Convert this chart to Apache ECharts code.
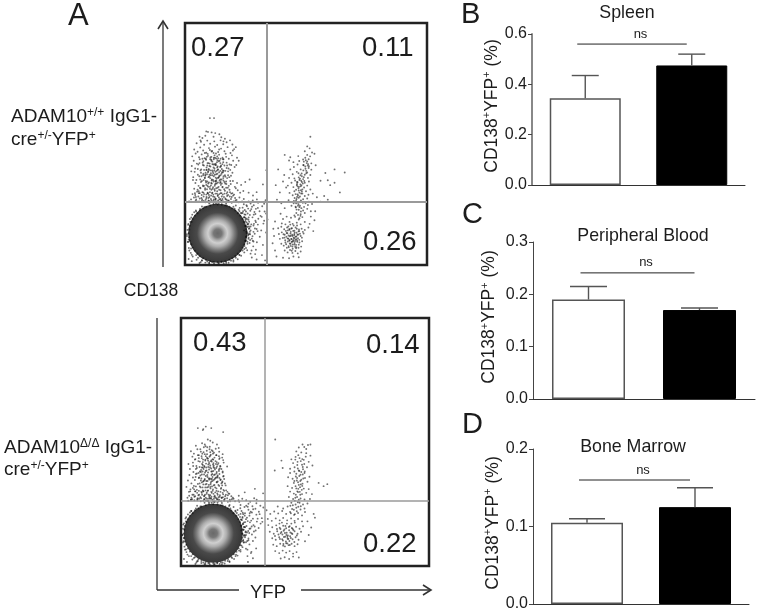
<!DOCTYPE html>
<html><head><meta charset="utf-8">
<style>html,body{margin:0;padding:0;background:#fff}#c{width:758px;height:615px}</style>
<script src="https://cdn.jsdelivr.net/npm/echarts@6/dist/echarts.min.js"></script>
</head><body><div id="c"></div>
<script>
// ---------- bar panels ----------
const categories = ['ADAM10 +/+', 'ADAM10 Δ/Δ'];
const spleenValues = [0.345, 0.475];
const spleenUpper = [0.435, 0.52];
const bloodValues = [0.19, 0.17];
const bloodUpper = [0.215, 0.174];
const marrowValues = [0.105, 0.125];
const marrowUpper = [0.11, 0.15];
// ---------- flow quadrant percentages ----------
const quadrantsTop = ['0.27', '0.11', '0.26'];
const quadrantsBottom = ['0.43', '0.14', '0.22'];
// ---------- flow events, x,y pairs on a 0-1000 display scale ----------
const gatesTop = [339, 260];
const gatesBottom = [339, 262];
const coreTop = [[135, 131]];
const coreBottom = [[130, 132]];
const tailTop = [
103,607,120,607,88,552,95,550,110,548,125,545,142,540,60,530,72,525,84,534,118,530,150,528,165,522,186,515,
48,503,66,509,79,497,92,514,104,501,121,511,133,496,147,515,158,499,172,507,196,498,210,487,
38,477,52,468,63,486,75,473,88,464,99,483,112,471,124,489,137,467,149,481,163,470,176,487,188,463,203,479,
30,449,44,461,58,445,69,457,81,441,94,459,105,444,118,463,129,440,141,456,155,443,168,460,181,439,194,453,215,443,
36,431,49,419,61,437,73,423,86,439,97,421,109,435,122,417,134,433,146,421,159,437,172,423,184,415,199,431,
28,409,42,399,55,415,67,395,78,411,90,393,101,409,113,391,125,413,137,395,148,407,160,389,174,411,187,393,205,405,
40,385,53,373,64,391,76,377,84,369,96,387,106,371,115,385,123,373,131,389,142,369,153,383,165,371,178,387,190,369,
34,363,47,351,59,367,70,347,82,361,92,345,100,365,110,349,119,367,128,345,138,361,147,343,158,359,170,345,183,363,198,347,
43,339,56,327,66,343,75,325,87,341,96,323,108,339,116,321,127,337,135,319,145,339,155,323,166,337,177,319,189,335,206,323,
38,315,50,303,62,319,72,301,83,317,94,299,103,315,112,297,122,313,132,295,141,311,151,297,162,313,172,295,184,311,196,297,218,309,
31,293,45,281,57,297,68,277,79,293,88,275,99,289,107,273,117,291,126,275,136,289,146,273,156,291,167,275,178,289,190,273,203,291,225,279
];
const tailTopDense = [
93,327,118,403,147,371,102,419,131,357,85,381,163,411,124,333,109,447,152,397,77,351,139,429,97,363,171,335,117,379,128,413,89,403,143,349,106,391,159,367,
74,413,134,377,99,341,167,389,113,427,148,331,82,359,122,399,137,441,95,383,155,417,107,329,127,361,178,371,87,435,116,351,145,405,101,373,132,425,68,367,
151,353,92,411,126,385,172,401,111,337,141,365,79,393,119,443,163,343,104,359,135,407,88,331,157,383,129,349,98,397,174,359,113,417,146,389,84,373,123,327,
91,313,108,287,133,305,76,299,152,283,119,271,64,317,142,293,97,277,165,307,126,295,85,269,174,285,55,283,137,267,103,301,158,263,114,315,70,265,147,309,
193,281,46,271,122,281,88,291,181,267,61,297,129,317,99,265,168,271,77,283,207,277,140,279,52,311,109,267,186,301,155,273,93,297,201,263,116,283,37,279,
72,439,128,461,95,451,158,425,110,469,141,477,82,463,170,447,60,421,122,453,147,439,191,413,53,397,103,475,133,449,180,399,66,381,196,381,74,329,187,347,
58,263,71,271,84,259,97,267,112,261,125,269,139,257,152,267,166,259,178,265,193,257,209,267,222,259,236,263,44,265,33,261,
42,289,25,271,17,263,210,317,228,299,215,339,33,351,26,387,212,413,222,431,198,473,64,515,159,511
];
const tailTopCore = [
121,391,133,403,113,371,141,383,127,419,105,407,149,411,119,437,137,361,99,393,157,391,111,353,129,375,143,431,93,421,125,347,151,377,107,379,135,393,117,415,
131,337,86,347,159,349,103,323,139,323,91,375,167,365,123,307,147,297,79,327,113,299,155,321,101,281,135,285,175,301,83,311,127,273,161,281,69,289,143,271,
109,311,95,295,117,265,149,265,173,269,185,283,61,275,77,265,131,263,105,259,89,281,163,295,191,295,57,305,199,287,213,269,49,263,41,297,
96,337,118,345,136,341,152,337,75,371,63,353,88,393,146,353,170,319,181,327,109,431,124,443,90,447,157,437,76,429,104,437
];
const bridgeTop = [
232,331,249,343,267,353,281,287,296,301,322,333,336,392,241,306,263,299,
243,251,256,243,271,254,284,247,302,257,319,243,333,268,
247,227,259,213,274,231,287,219,301,236,329,221,
251,193,265,179,279,197,291,183,312,203,341,188,
257,157,271,143,283,163,296,149,324,171,
261,123,276,109,288,129,309,117,335,134,
267,91,282,77,297,94,322,83,
257,61,271,47,293,63,318,41,
276,31,296,23,331,19,
238,237,252,221,246,209,261,233,268,207,277,241,255,176,263,196,249,161,274,168,
244,143,258,133,266,152,252,117,269,103,249,99,283,137,291,211,303,191,
243,273,263,263,280,267,297,271,312,261,327,253,
262,187,270,224,284,208,293,232,308,222,317,199,327,183,269,127,279,119,289,151,301,167,315,143,
254,247,238,215,247,197,259,169,271,159,253,137,263,113,283,97,293,177,335,213
];
const rightTop = [
518,530,505,490,515,482,495,470,525,465,505,455,535,460,412,455,435,445,468,450,
430,432,448,425,472,430,488,436,505,428,522,420,540,412,465,415,490,412,512,408,
435,395,450,405,478,395,498,398,522,394,462,385,482,378,505,382,518,372,445,375,
430,360,452,358,470,362,488,355,508,360,465,342,480,348,495,340,512,345,440,340,
425,328,448,322,462,330,478,325,492,320,505,328,470,308,485,312,500,305,518,312,452,305,
432,298,445,288,465,292,480,295,495,285,510,290,528,295,470,278,488,272,505,275,545,280,
428,268,450,265,465,258,482,262,498,255,512,262,475,245,492,240,508,248,525,252,560,262,
440,245,458,238,470,228,488,225,505,232,520,222,460,215,478,210,495,215,538,222,
385,395,410,372,375,330,392,300,405,345,418,320,380,270,398,255,412,235,395,212,
590,350,600,330,575,285,590,270,618,395,618,340,660,382,
640,300,560,348,580,380,640,260,
497,443,511,437,503,421,517,449,491,427,509,417,497,407,489,391,511,401,483,367,
473,351,491,363,477,333,469,317,487,337,459,311,473,299,493,347,467,287,483,303,
475,283,461,273,479,267,453,277,469,251,487,257,457,241,473,239,461,229,479,221,
465,325,455,349,477,371,501,389,469,379,459,267,449,255,467,207,455,199,473,193,
481,329,463,343,471,323,485,295,479,309,457,293,463,281,471,261,467,245,481,235,
495,373,507,411,499,433,475,357,463,335,489,413,501,379,483,343,459,255,477,203
];
const lowerTop = [
405,190,420,200,438,195,452,205,470,188,485,198,400,172,415,168,432,178,445,170,462,175,478,168,495,178,
385,152,398,158,410,148,422,155,432,145,442,152,452,142,462,150,472,140,482,150,495,145,510,155,
388,128,400,135,412,125,420,132,428,122,436,130,444,120,452,128,460,118,468,126,478,120,490,130,
392,108,404,112,414,102,424,110,432,100,440,108,448,98,456,106,464,96,472,104,484,98,
398,88,408,80,418,86,428,78,436,88,444,76,452,84,460,74,470,84,480,76,
412,60,424,52,434,62,444,50,456,58,466,48,478,56,
372,180,365,150,368,120,362,90,372,60,378,35,405,30,430,28,448,35,470,32,
520,200,535,185,515,170,530,140,
437,137,449,113,427,159,461,133,441,95,419,117,453,91,435,167,467,111,429,73,447,141,459,83,423,131,471,147,439,107,
451,123,433,89,463,163,417,141,445,67,475,129,431,149,455,99,443,125,425,97,469,71,411,113,457,155,437,79,483,113,
449,163,421,71,461,107,441,59,407,127,473,93,427,109,453,135,439,151,465,125,415,93,487,137,447,103,433,119,459,69,
443,97,451,111,437,121,457,117,431,103,445,85,463,101,425,143,455,75,469,139
];
const rimTop = [
8,120,10,145,12,95,14,170,16,70,20,190,24,50,30,208,32,35,45,225,48,22,62,232,65,12,80,240,84,10,
100,8,120,6,140,8,160,7,180,9,200,14,218,24,232,38,245,52,252,70,
258,88,262,108,266,128,264,150,262,170,256,190,250,208,240,222,226,236,210,246,
15,105,18,60,22,178,28,42,38,218,54,30,70,18,92,14,112,12,150,12,170,14,190,18,210,30,225,42,238,60,246,78,
252,100,255,120,256,140,254,160,250,180,244,198,234,214,222,228,
275,60,280,100,290,45,300,140,285,170,28,16,60,8,15,25,
255,131,261,127,268,137,250,162,258,168,264,159,238,190,244,197,250,187,218,214,225,222,231,215,194,234,200,241,205,233,
166,246,170,253,173,245,135,250,141,258,128,254,105,246,100,254,75,234,70,242,52,214,46,221,32,190,26,196,20,162,13,166,
15,131,8,127,20,100,13,96,32,72,25,68,52,48,46,41,75,28,70,20,104,16,100,8,135,12,138,5,166,16,170,8,195,28,200,20,
218,48,225,41,238,72,245,66,250,100,258,96,152,249,118,251,87,241,61,226,41,204,27,178,18,147,17,115,26,86,41,59,61,36,
87,21,119,13,151,14,183,22,208,37,229,58,245,85,253,115,253,148,243,178,228,204,208,225,184,241,152,257,118,257
];
const tailBottom = [
68,556,90,552,100,562,88,548,122,556,170,540,
108,510,118,505,85,495,96,490,128,498,145,490,60,485,152,476,
40,463,52,453,66,471,80,461,92,479,104,465,116,481,128,463,140,473,154,461,168,451,
46,441,58,431,72,447,84,435,96,451,106,433,118,445,130,429,142,447,156,435,170,427,
30,411,48,417,62,403,76,421,88,407,98,425,110,409,120,423,132,405,144,419,158,403,172,417,186,401,
36,391,50,379,64,395,76,381,88,397,100,383,110,399,122,381,134,395,144,379,156,393,168,377,
34,367,48,357,60,371,72,355,84,369,96,351,106,367,116,353,126,371,136,351,148,365,160,349,172,363,
28,345,42,333,56,347,68,331,80,345,90,329,102,343,112,327,122,341,132,325,144,339,154,323,166,337,180,325,
22,319,38,309,52,323,64,307,76,321,88,305,98,317,108,303,118,319,128,303,138,317,150,301,162,315,174,303,
32,299,46,287,58,301,70,285,82,299,94,283,104,297,114,281,124,295,134,279,146,293,156,279,168,295,178,281,192,293,
26,275,40,267,54,279,66,265,78,277,90,263,100,275,110,261,120,273,130,259,142,273,152,261,164,275,174,263,186,273,198,261,212,271
];
const tailBottomDense = [
89,341,114,413,143,373,98,429,127,359,81,387,159,401,120,335,105,451,148,409,73,357,135,437,93,369,167,341,113,389,124,421,85,411,139,355,102,397,155,371,
70,423,130,383,95,347,163,391,109,433,144,337,78,365,118,405,133,457,91,391,151,415,103,331,123,367,174,351,83,443,112,353,141,411,97,377,128,431,64,373,
147,357,88,419,122,393,168,381,107,343,137,369,75,399,115,471,159,347,100,363,131,415,84,337,153,389,125,351,94,403,170,361,109,425,142,395,80,379,119,329,
87,317,104,291,129,309,72,303,148,287,115,275,60,321,138,297,93,281,161,311,122,299,81,273,170,289,51,287,133,271,99,305,154,267,110,319,66,269,143,313,
189,285,42,275,118,285,84,295,177,271,57,301,125,321,95,269,164,275,73,287,203,281,136,283,48,315,105,271,182,305,151,277,89,301,197,267,112,287,33,283,
68,447,124,467,91,459,154,431,106,479,78,471,166,437,56,429,118,459,143,447,49,403,99,483,129,453,60,391,
54,265,67,273,80,261,93,269,108,263,121,271,135,259,148,269,162,261,174,267,189,259,205,269,218,261,232,265,40,267,29,263
];
const tailBottomCore = [
117,397,129,409,109,377,137,389,123,427,101,413,145,401,115,441,133,367,95,399,153,383,107,359,125,381,139,423,89,429,121,351,147,361,103,385,131,399,113,419,
127,343,82,353,155,355,99,329,135,327,87,381,163,333,119,313,143,303,75,333,109,305,151,327,97,287,131,291,171,307,79,317,123,279,157,285,65,295,139,277,
105,317,91,301,113,271,145,269,169,277,181,287,57,281,73,271,127,267,101,263,85,287,159,299,187,299,53,309,195,291,209,275,45,269,37,301,
92,343,114,349,132,347,148,341,71,375,59,359,84,397,142,357,166,325,177,333,105,437,120,449,86,453,153,443,72,435,100,443
];
const bridgeBottom = [
240,246,256,238,272,251,288,241,304,253,320,243,332,236,
244,222,258,213,272,227,286,216,300,231,314,219,
248,198,262,189,276,203,290,191,304,207,326,193,
250,172,264,161,278,176,292,165,306,179,
252,146,266,135,280,151,294,139,313,153,
258,122,272,111,286,127,300,115,
262,96,276,87,290,101,
268,66,284,57,303,71,
290,31,
239,233,249,215,263,243,257,203,269,181,246,185,253,157,262,125,247,131,251,105,271,141,243,163,281,219,
235,259,247,271,263,265,279,259,295,273,305,267,233,283,257,297,298,311,331,293,
266,195,277,213,291,229,283,183,297,159,309,191,321,171,275,133,285,159,267,101,259,177,251,209,
269,239,301,143,317,209,328,178,243,143
];
const rightBottom = [
512,488,490,490,497,480,505,472,522,490,475,478,465,462,485,458,505,455,522,445,
445,430,462,440,478,435,495,428,515,420,452,415,470,420,488,408,508,398,530,405,
440,392,458,398,475,385,492,390,440,375,465,372,482,368,498,375,518,360,
432,358,450,352,468,355,485,348,500,355,455,335,472,338,490,332,510,340,
430,322,448,315,462,322,480,318,495,312,515,310,
440,300,455,292,472,298,488,290,505,295,528,290,
435,278,452,270,468,278,482,272,498,268,520,270,
445,255,462,248,478,255,492,248,510,252,
390,240,412,232,430,240,448,230,465,235,482,228,498,232,
380,510,405,425,378,385,410,395,555,335,575,322,590,330,
483,423,469,407,491,399,477,383,463,361,481,343,491,369,475,327,487,307,469,301,
457,343,465,313,481,287,459,263,475,267,451,245,467,221,483,241,443,213,
497,411,461,429,473,447,499,381,457,381,489,323,
471,393,485,379,477,363,467,345,483,329,473,311,463,287,479,299,461,275,471,257,
455,227,441,243,473,239,459,209,489,431,503,441,493,353
];
const lowerBottom = [
345,225,360,210,376,220,392,212,408,222,424,210,440,218,456,206,472,214,488,204,500,218,
350,190,366,182,382,192,398,184,412,194,428,184,444,192,458,182,472,190,488,180,
352,165,368,156,384,164,398,154,412,162,424,152,438,160,450,150,464,158,478,150,492,160,
358,138,374,130,388,140,402,132,414,142,426,134,436,144,446,132,458,140,470,130,484,138,
368,112,382,106,396,116,408,108,420,118,430,110,440,120,450,108,462,116,474,106,
372,86,386,80,400,90,412,82,424,92,434,84,446,90,458,80,470,88,
380,60,396,52,410,62,424,54,438,60,452,50,466,56,
402,30,418,35,436,28,452,38,475,34,
510,180,525,155,515,125,500,100,535,210,540,195,
417,147,431,123,405,137,443,113,423,99,393,127,435,157,411,103,449,129,427,171,401,149,457,97,419,133,439,85,407,175,
445,171,387,149,429,117,413,89,453,145,399,109,421,161,437,101,467,123,379,121,
425,125,433,109,415,117,441,135,409,127,429,91,447,153,419,79,397,171,459,175
];
const rimBottom = [
6,125,8,150,10,100,12,172,14,78,18,192,22,56,28,208,32,40,42,222,46,26,60,232,62,14,78,240,82,12,
98,8,116,6,136,8,156,8,176,10,196,16,214,28,228,42,240,58,248,76,
254,96,258,116,260,136,258,156,254,176,248,194,240,210,228,226,212,238,196,246,
12,112,16,66,20,180,26,46,36,216,52,32,68,20,90,14,110,12,146,12,168,14,188,20,206,32,222,46,234,62,
244,82,250,102,252,122,252,146,248,168,242,188,232,206,220,220,
262,70,272,104,282,52,276,150,268,40,24,16,58,8,12,28,270,16,
248,129,255,125,261,139,243,161,251,169,257,157,231,189,238,198,243,186,211,213,219,223,225,214,189,233,194,242,199,232,
161,245,165,254,168,244,130,249,136,259,123,255,100,245,95,255,70,233,65,243,47,213,41,222,27,189,21,197,15,161,9,167,
10,130,5,125,15,99,8,95,27,71,20,67,47,47,41,40,70,27,65,19,99,15,95,7,130,11,133,5,161,15,165,7,190,27,195,19,
213,47,220,40,233,71,240,65,245,99,253,95,147,248,113,250,82,240,56,225,36,203,22,177,13,146,12,114,21,85,36,58,56,35,
82,20,114,12,146,13,178,21,203,36,224,57,240,84,248,114,248,147,238,177,223,203,203,224,179,240,147,256,113,256
];

const pairs = f => { const o = []; for (let i = 0; i + 1 < f.length; i += 2) o.push([f[i], f[i + 1]]); return o; };
const FONT = '"Liberation Sans", Arial, sans-serif';
const INK = '#1c1c1c';

const coreGradient = {
  type: 'radial', x: .5, y: .5, r: .5,
  colorStops: [
    {offset: 0, color: '#444'}, {offset: .14, color: '#555'}, {offset: .24, color: '#999'},
    {offset: .33, color: '#c4c4c4'}, {offset: .45, color: '#9a9a9a'}, {offset: .58, color: '#555'},
    {offset: .7, color: '#1c1c1c'}, {offset: 1, color: '#050505'}
  ]
};

const grids = [], xAxes = [], yAxes = [], series = [], graphic = [];

function flowPanel(box, lists, core, gates, gateWidth) {
  const i = grids.length;
  grids.push({left: box[0], top: box[1], width: box[2], height: box[2], show: true, borderColor: '#222', borderWidth: 2.5, backgroundColor: '#fff', z: 1});
  xAxes.push({gridIndex: i, type: 'value', min: 0, max: 1000, show: false});
  yAxes.push({gridIndex: i, type: 'value', min: 0, max: 1000, show: false});
  series.push({
    type: 'scatter', xAxisIndex: i, yAxisIndex: i, symbolSize: 1.9, silent: true, z: 3,
    itemStyle: {color: '#1a1a1a', opacity: .62},
    data: pairs(lists.flat()),
    markLine: {
      silent: true, symbol: 'none', label: {show: false}, animation: false,
      lineStyle: {color: '#9a9a9a', width: gateWidth, type: 'solid'},
      data: [{xAxis: gates[0]}, {yAxis: gates[1]}]
    }
  });
  series.push({
    type: 'scatter', xAxisIndex: i, yAxisIndex: i, symbolSize: 59, silent: true, z: 4,
    itemStyle: {color: coreGradient}, data: core
  });
}

function barPanel(box, values, upper, yMax, step, title, nsY, capW, barW, titlePos, nameGap, axisCol, axisW) {
  const i = grids.length;
  grids.push({left: box[0], top: box[1], width: box[2], height: box[3]});
  xAxes.push({
    gridIndex: i, type: 'category', data: categories,
    axisLine: {lineStyle: {color: '#333', width: 1}},
    axisTick: {alignWithLabel: true, length: 4, lineStyle: {color: '#333'}},
    axisLabel: {show: false}, splitLine: {show: false}
  });
  yAxes.push({
    gridIndex: i, type: 'value', min: 0, max: yMax, interval: step,
    name: '{n|CD138}{s|+}{n|YFP}{s|+}{n| (%)}', nameLocation: 'middle', nameGap,
    nameTextStyle: {padding: [0, 0, 0, 7], rich: {
      n: {fontSize: 17.5, fontFamily: FONT, color: INK, lineHeight: 21},
      s: {fontSize: 11, fontFamily: FONT, color: INK, verticalAlign: 'top', lineHeight: 21}
    }},
    axisLine: {show: true, lineStyle: {color: axisCol, width: axisW}},
    axisTick: {show: true, length: 4, lineStyle: {color: '#444'}},
    axisLabel: {fontSize: 16, fontFamily: FONT, color: INK, margin: 5, formatter: v => v.toFixed(1)},
    splitLine: {show: false}
  });
  series.push({
    type: 'bar', xAxisIndex: i, yAxisIndex: i, barWidth: barW, silent: true, z: 2,
    data: [
      {value: values[0], itemStyle: {color: '#fff', borderColor: '#555', borderWidth: 1.5}},
      {value: values[1], itemStyle: {color: '#000', borderColor: '#000', borderWidth: 1}}
    ]
  });
  series.push({
    type: 'custom', xAxisIndex: i, yAxisIndex: i, silent: true, z: 3,
    data: values.map((v, k) => [k, v, upper[k]]),
    encode: {x: 0, y: [1, 2]},
    renderItem(p, api) {
      const a = api.coord([api.value(0), api.value(1)]);
      const b = api.coord([api.value(0), api.value(2)]);
      const st = {stroke: '#555', lineWidth: 1.4, fill: null};
      return {type: 'group', children: [
        {type: 'line', shape: {x1: a[0], y1: a[1], x2: b[0], y2: b[1]}, style: st},
        {type: 'line', shape: {x1: b[0] - capW / 2, y1: b[1], x2: b[0] + capW / 2, y2: b[1]}, style: st}
      ]};
    }
  });
  series.push({
    type: 'custom', xAxisIndex: i, yAxisIndex: i, silent: true, z: 3,
    data: [[0, 1, nsY]],
    encode: {x: [0, 1], y: 2},
    renderItem(p, api) {
      const a = api.coord([api.value(0), api.value(2)]);
      const b = api.coord([api.value(1), api.value(2)]);
      return {type: 'group', children: [
        {type: 'line', shape: {x1: a[0] - 8, y1: a[1], x2: b[0] - 5, y2: b[1]}, style: {stroke: '#222', lineWidth: 1, fill: null}},
        {type: 'text', x: (a[0] + b[0]) / 2 + 2, y: a[1] - 10, style: {text: 'ns', font: '13px ' + FONT, fill: INK, textAlign: 'center', textVerticalAlign: 'middle'}}
      ]};
    }
  });
  label(title, titlePos[0], titlePos[1], 17.8, 'center');
}

function label(text, x, y, size, align, rich) {
  graphic.push({type: 'text', x, y, z: 20, silent: true, style: {
    text, font: size + 'px ' + FONT, fill: INK, align: align || 'left', verticalAlign: 'middle',
    textAlign: align || 'left', textVerticalAlign: 'middle', rich
  }});
}
function seg(x1, y1, x2, y2) {
  graphic.push({type: 'line', z: 20, silent: true, shape: {x1, y1, x2, y2}, style: {stroke: '#333', lineWidth: 1.3}});
}
function head(pts) {
  graphic.push({type: 'polyline', z: 20, silent: true, shape: {points: pts}, style: {stroke: '#333', lineWidth: 1.6, fill: null}});
}

flowPanel([185, 23, 242], [tailTop, tailTopDense, tailTopCore, bridgeTop, rightTop, lowerTop, rimTop], coreTop, gatesTop, 2);
flowPanel([181, 318, 248], [tailBottom, tailBottomDense, tailBottomCore, bridgeBottom, rightBottom, lowerBottom, rimBottom], coreBottom, gatesBottom, 1.5);

barPanel([532, 34, 213, 151], spleenValues, spleenUpper, 0.6, 0.2, 'Spleen', 0.56, 27, 71, [627, 13], 28, '#888', 2);
barPanel([533, 242, 222, 157], bloodValues, bloodUpper, 0.3, 0.1, 'Peripheral Blood', 0.241, 37, 73, [643, 236], 33, '#444', 1);
barPanel([533, 449, 216, 155], marrowValues, marrowUpper, 0.2, 0.1, 'Bone Marrow', 0.16, 36, 72, [633, 447], 29, '#444', 1);

// quadrant numbers
label(quadrantsTop[0], 191, 48, 27.5);
label(quadrantsTop[1], 362, 48, 27.5);
label(quadrantsTop[2], 363, 242, 27.5);
label(quadrantsBottom[0], 193, 343, 27.5);
label(quadrantsBottom[1], 366, 345, 27.5);
label(quadrantsBottom[2], 363, 544, 27.5);

// panel letters
label('A', 68, 16, 31);
label('B', 461, 15, 29);
label('C', 462, 215, 29);
label('D', 462, 425, 29);

// row labels
const richRow = {s: {fontSize: 12, fontFamily: FONT, color: INK, verticalAlign: 'top', lineHeight: 20}, n: {fontSize: 19, fontFamily: FONT, color: INK, lineHeight: 20}};
label('{n|ADAM10}{s|+/+}{n| IgG1-}', 11, 117, 19, 'left', richRow);
label('{n|cre}{s|+/-}{n|YFP}{s|+}', 11, 140, 19, 'left', richRow);
label('{n|ADAM10}{s|Δ/Δ}{n| IgG1-}', 4, 448, 19, 'left', richRow);
label('{n|cre}{s|+/-}{n|YFP}{s|+}', 4, 470, 19, 'left', richRow);
label('CD138', 151, 291, 17.5, 'center');
label('YFP', 268, 593, 18.5, 'center');

// arrows
seg(163, 267, 163, 21);
head([[158, 29], [163, 21], [168, 29]]);
seg(157, 318, 157, 590);
seg(157, 590, 239, 590);
seg(301, 590, 431, 590);
head([[423, 585], [431, 590], [423, 595]]);

const chart = echarts.init(document.getElementById('c'), null, {renderer: 'canvas'});
chart.setOption({
  animation: false, backgroundColor: '#fff',
  textStyle: {fontFamily: FONT},
  grid: grids, xAxis: xAxes, yAxis: yAxes, series, graphic: {elements: graphic}
});
</script></body></html>
